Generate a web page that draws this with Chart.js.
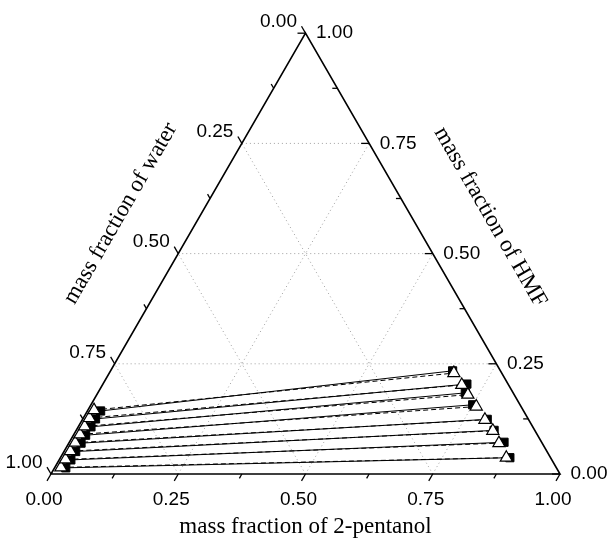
<!DOCTYPE html>
<html>
<head>
<meta charset="utf-8">
<script src="https://cdn.jsdelivr.net/npm/chart.js@4.4.0/dist/chart.umd.min.js"></script>
<style>
  html, body { margin: 0; padding: 0; background: #fff; }
  #wrap { width: 609px; height: 540px; position: relative; }
</style>
</head>
<body>
<div id="wrap"><canvas id="chart"></canvas></div>
<script>
// Ternary tie lines, mass fractions. Water = 1 - pentanol - HMF.
const tickLabels = ['0.00', '0.25', '0.50', '0.75', '1.00'];

// experimental (filled squares, solid lines)
const expAqPentanol  = [0.026, 0.025, 0.025, 0.024, 0.024, 0.023, 0.023, 0.022];
const expAqHMF       = [0.143, 0.125, 0.107, 0.088, 0.070, 0.051, 0.032, 0.014];
const expOrgPentanol = [0.672, 0.715, 0.722, 0.750, 0.795, 0.821, 0.854, 0.883];
const expOrgHMF      = [0.234, 0.204, 0.184, 0.157, 0.124, 0.099, 0.072, 0.037];

// calculated (open triangles, dashed lines)
const calcAqPentanol  = [0.012, 0.012, 0.012, 0.012, 0.012, 0.012, 0.012, 0.012];
const calcAqHMF       = [0.145, 0.127, 0.108, 0.090, 0.071, 0.052, 0.033, 0.015];
const calcOrgPentanol = [0.677, 0.706, 0.729, 0.759, 0.791, 0.819, 0.845, 0.876];
const calcOrgHMF      = [0.229, 0.202, 0.180, 0.153, 0.123, 0.098, 0.070, 0.037];

const H = Math.sqrt(3) / 2;

// ternary -> cartesian (pentanol to the right, HMF at the top)
function toXY(pent, hmf) {
    return { x: pent + hmf / 2, y: hmf * H };
}

const datasets = [];

// calc first so the triangles sit on top of the squares
calcAqPentanol.forEach((p, i) => {
    datasets.push({
        data: [toXY(p, calcAqHMF[i]), toXY(calcOrgPentanol[i], calcOrgHMF[i])],
        showLine: true,
        borderColor: '#000',
        borderWidth: 1,
        borderDash: [5, 3],
        pointStyle: 'triangle',
        pointRadius: 7,
        pointBackgroundColor: '#fff',
        pointBorderColor: '#000',
        pointBorderWidth: 1.2,
        clip: false
    });
});
expAqPentanol.forEach((p, i) => {
    datasets.push({
        data: [toXY(p, expAqHMF[i]), toXY(expOrgPentanol[i], expOrgHMF[i])],
        showLine: true,
        borderColor: '#000',
        borderWidth: 1,
        pointStyle: 'rect',
        pointRadius: 5.8,
        pointBackgroundColor: '#000',
        pointBorderColor: '#000',
        pointBorderWidth: 1,
        clip: false
    });
});

// triangle frame, grid, ticks and labels
const ternaryFrame = {
    id: 'ternaryFrame',
    beforeDatasetsDraw(chart) {
        const ctx = chart.ctx;
        const sx = chart.scales.x, sy = chart.scales.y;
        const P = (pent, hmf) => [sx.getPixelForValue(pent + hmf / 2), sy.getPixelForValue(hmf * H)];
        const line = (a, b) => { ctx.beginPath(); ctx.moveTo(a[0], a[1]); ctx.lineTo(b[0], b[1]); ctx.stroke(); };

        ctx.save();

        // dotted grid
        ctx.strokeStyle = '#a0a0a0';
        ctx.lineWidth = 1;
        ctx.setLineDash([1, 3]);
        [0.25, 0.5, 0.75].forEach(v => {
            line(P(0, v), P(1 - v, v));      // HMF const
            line(P(v, 0), P(v, 1 - v));      // pentanol const
            line(P(1 - v, 0), P(0, 1 - v));  // water const
        });
        ctx.setLineDash([]);

        // frame
        ctx.strokeStyle = '#000';
        ctx.lineWidth = 1.6;
        const A = P(0, 0), B = P(1, 0), C = P(0, 1);
        ctx.beginPath();
        ctx.moveTo(A[0], A[1]); ctx.lineTo(B[0], B[1]); ctx.lineTo(C[0], C[1]); ctx.closePath();
        ctx.stroke();

        // ticks
        ctx.lineWidth = 1.3;
        for (let k = 0; k <= 8; k++) {
            const t = k / 8;
            const len = k % 2 === 0 ? 8 : 5;
            let p = P(t, 0);
            line(p, [p[0] - 0.5 * len, p[1] + H * len]);       // pentanol
            p = P(1 - t, t);
            line(p, [p[0] - len, p[1]]);                        // HMF
            p = P(0, 1 - t);
            line(p, [p[0] - 0.5 * len, p[1] - H * len]);       // water
        }

        // tick labels
        ctx.fillStyle = '#000';
        ctx.font = '19px "Liberation Sans", Arial, sans-serif';
        ctx.textBaseline = 'middle';
        tickLabels.forEach((lab, k) => {
            const t = k / 4;
            let p = P(t, 0);
            ctx.textAlign = 'center';
            ctx.fillText(lab, p[0] - 7, p[1] + 26);
            p = P(1 - t, t);
            ctx.textAlign = 'left';
            ctx.fillText(lab, p[0] + 10.5, p[1]);
            p = P(0, 1 - t);
            ctx.textAlign = 'right';
            ctx.fillText(lab, p[0] - 8.5, p[1] - 11.5);
        });

        // axis titles
        ctx.font = '23px "Liberation Serif", "Times New Roman", serif';
        ctx.textAlign = 'center';
        const bm = P(0.5, 0);
        ctx.fillText('mass fraction of 2-pentanol', bm[0], bm[1] + 53);

        const lm = P(0, 0.5);
        ctx.save();
        ctx.translate(lm[0] - 0.866 * 70 + 0.5 * 6, lm[1] - 0.5 * 70 - 0.866 * 6);
        ctx.rotate(-Math.PI / 3);
        ctx.fillText('mass fraction of water', 0, 0);
        ctx.restore();

        const rm = P(0.5, 0.5);
        ctx.save();
        ctx.translate(rm[0] + 0.866 * 68 - 0.5 * 3, rm[1] - 0.5 * 68 - 0.866 * 3);
        ctx.rotate(Math.PI / 3);
        ctx.fillText('mass fraction of HMF', 0, 0);
        ctx.restore();

        ctx.restore();
    }
};

new Chart(document.getElementById('chart'), {
    type: 'scatter',
    data: { datasets: datasets },
    options: {
        responsive: true,
        maintainAspectRatio: false,
        animation: false,
        events: [],
        layout: { padding: { left: 51, right: 49, top: 474 - 509 * H, bottom: 66 } },
        scales: {
            x: { type: 'linear', min: 0, max: 1, display: false },
            y: { type: 'linear', min: 0, max: H, display: false }
        },
        plugins: { legend: { display: false }, tooltip: { enabled: false } }
    },
    plugins: [ternaryFrame]
});
</script>
</body>
</html>
